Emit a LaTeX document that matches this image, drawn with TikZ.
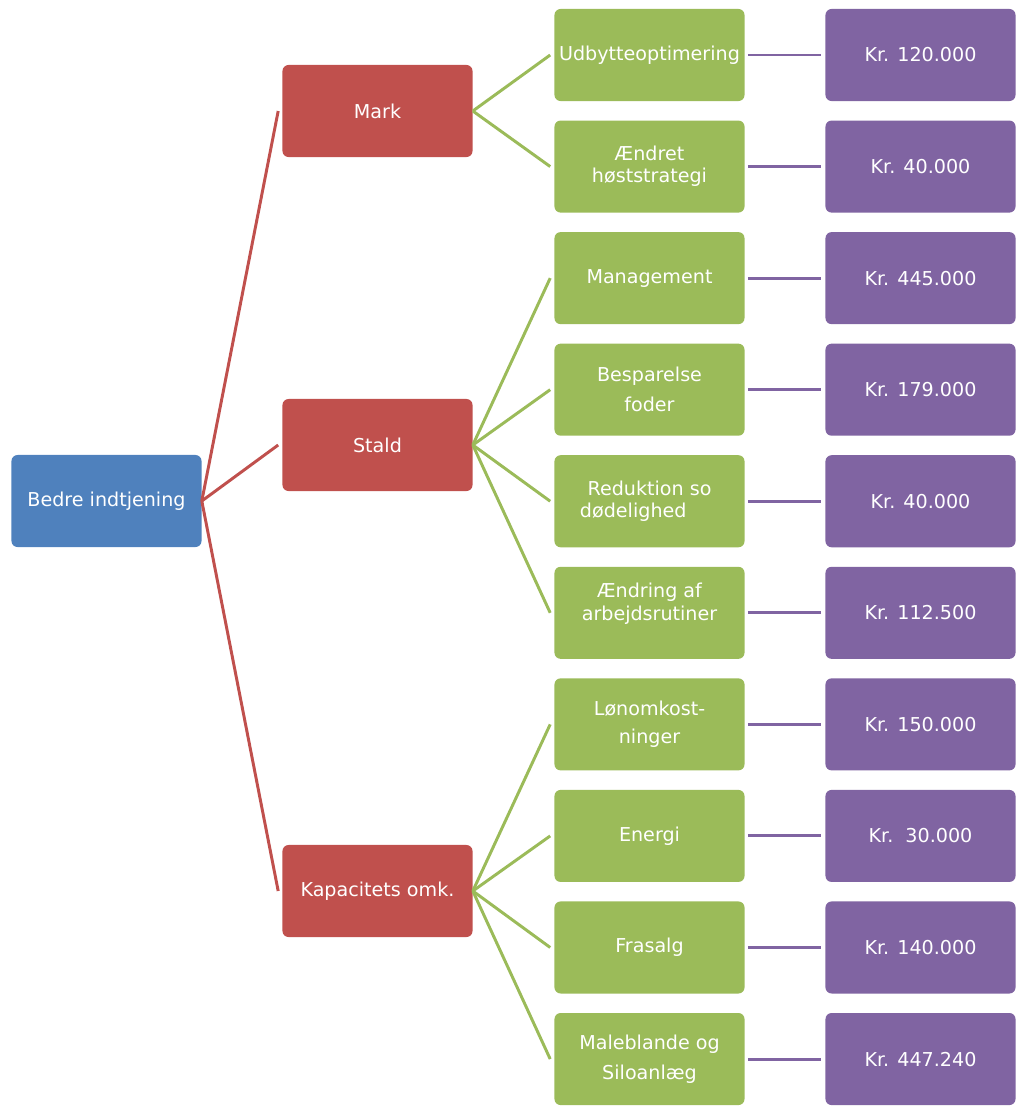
\documentclass[tikz,border=0pt]{standalone}
\usepackage{fontspec}
\setmainfont{DejaVu Sans}
\usepackage{tikz}
\usetikzlibrary{positioning,calc}
\definecolor{bluebox}{HTML}{4F81BD}
\definecolor{redbox}{HTML}{C0504D}
\definecolor{greenbox}{HTML}{9BBB59}
\definecolor{purplebox}{HTML}{8064A2}
\tikzset{box/.style={rectangle,rounded corners=4.3pt,minimum width=4.75cm,minimum height=2.3cm,inner sep=1pt,align=center,text=white,font=\fontsize{13.6}{15.8}\selectfont}}
\tikzset{rootbox/.style={box,fill=bluebox}}
\tikzset{areabox/.style={box,fill=redbox}}
\tikzset{itembox/.style={box,fill=greenbox}}
\tikzset{valuebox/.style={box,fill=purplebox}}
\tikzset{link/.style={line width=2.1pt}}

\begin{document}
\begin{tikzpicture}[x=0.025cm,y=-0.025cm]
  \useasboundingbox (0,0) rectangle (1018,1106);
  \node[rootbox] (root) at (106.5,501) {Bedre indtjening};
  \node[areabox] (mark) at (377.5,111) {Mark};
  \node[areabox] (stald) at (377.5,445) {Stald};
  \node[areabox] (kap) at (377.5,891) {Kapacitets omk.};
  \foreach \i/\txt/\val in {1/Udbytteoptimering/Kr. 120.000,
      2/{Ændret\\høststrategi}/Kr. 40.000,
      3/Management/Kr. 445.000,
      4/{Besparelse\\[5.7pt]foder}/Kr. 179.000,
      5/{Reduktion so\\dødelighed\hspace*{1.7em}}/Kr. 40.000,
      6/{Ændring af\\arbejdsrutiner\\\mbox{}}/Kr. 112.500,
      7/{Lønomkost-\\[4.3pt]ninger}/Kr. 150.000,
      8/Energi/{Kr.\ \ 30.000},
      9/Frasalg/Kr. 140.000,
      10/{Maleblande og\\[5.7pt]Siloanlæg}/Kr. 447.240}
  {
    \node[itembox] (item\i) at (649.5,{55+111.56*(\i-1)}) {\txt};
    \node[valuebox] (val\i) at (920.5,{55+111.56*(\i-1)}) {\val};
    \draw[link,purplebox] ($(item\i.east)+(3,0)$) -- ($(val\i.west)+(-4,0)$);
  }
  \foreach \a in {mark,stald,kap}
    \draw[link,redbox] (root.east) -- ($(\a.west)+(-4,0)$);
  \foreach \a/\b in {mark/1,mark/2,stald/3,stald/4,stald/5,stald/6,kap/7,kap/8,kap/9,kap/10}
    \draw[link,greenbox] (\a.east) -- ($(item\b.west)+(-4,0)$);
\end{tikzpicture}
\end{document}
